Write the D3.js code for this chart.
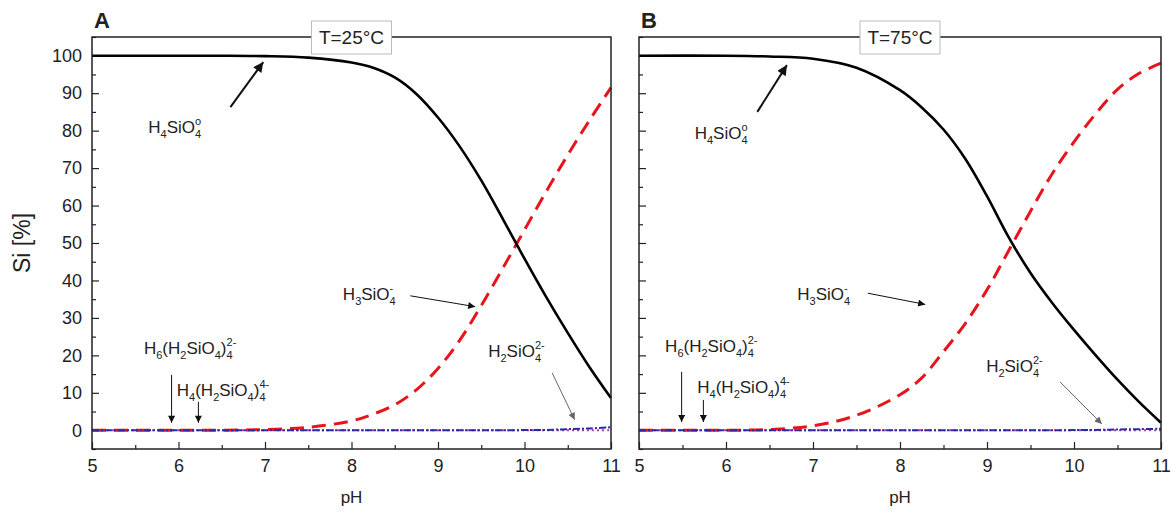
<!DOCTYPE html>
<html>
<head>
<meta charset="utf-8">
<script src="https://cdn.jsdelivr.net/npm/d3@7"></script>
<style>
  body { margin: 0; background: #fff; }
  svg text { font-family: "Liberation Sans", Arial, sans-serif; fill: #222; }
</style>
</head>
<body>
<div id="chart"></div>
<script>
// pH grid
var pH = [5, 6, 6.5, 7, 7.5, 8, 8.25, 8.5, 8.75, 9, 9.25, 9.5, 9.75, 10, 10.25, 10.5, 10.75, 11];

// T = 25 C
var h4sio4A  = [100, 100, 100, 99.9, 99.5, 98.2, 96.8, 94.2, 89.8, 83.5, 75.8, 66.7, 56.4, 45.8, 35.6, 26, 16.9, 8.6];
var h3sio4A  = [0, 0, 0, 0.2, 0.8, 2.5, 4.3, 6.8, 10.8, 16.5, 24, 33.3, 43.3, 53.5, 63.7, 73.5, 82.7, 91.5];
var h2sio4A  = [0, 0, 0, 0, 0, 0, 0, 0, 0, 0, 0, 0, 0, 0.05, 0.1, 0.3, 0.5, 0.8];
var polyA    = [0, 0, 0, 0, 0, 0, 0, 0, 0, 0, 0, 0, 0, 0, 0, 0, 0, 0];

// T = 75 C
var h4sio4B  = [100, 100, 99.8, 99.2, 96.8, 90.8, 86.2, 80.3, 72.5, 62.5, 51.5, 42, 34, 26.8, 20, 13.5, 7.5, 2];
var h3sio4B  = [0, 0, 0.2, 1.2, 4, 9.5, 14, 21, 28.5, 37.5, 48, 58.5, 68.5, 77, 84.5, 91, 95.3, 98];
var h2sio4B  = [0, 0, 0, 0, 0, 0, 0, 0, 0, 0, 0, 0, 0, 0.05, 0.1, 0.2, 0.3, 0.4];
var polyB    = [0, 0, 0, 0, 0, 0, 0, 0, 0, 0, 0, 0, 0, 0, 0, 0, 0, 0];

var xTicks = [5, 6, 7, 8, 9, 10, 11];
var yTicks = [0, 10, 20, 30, 40, 50, 60, 70, 80, 90, 100];

var width = 1173, height = 513;

var svg = d3.select("#chart")
  .append("svg")
    .attr("width", width)
    .attr("height", height);

var defs = svg.append("defs");
function arrowMarker(id, color, w, h) {
  defs.append("marker")
    .attr("id", id)
    .attr("viewBox", "0 0 10 10")
    .attr("refX", 10).attr("refY", 5)
    .attr("markerUnits", "userSpaceOnUse")
    .attr("markerWidth", w).attr("markerHeight", h)
    .attr("orient", "auto")
    .append("path")
      .attr("d", "M0,0 L10,5 L0,10 z")
      .attr("fill", color);
}
arrowMarker("arr-bold", "#111", 12, 10);
arrowMarker("arr-thin", "#111", 10, 7);
arrowMarker("arr-gray", "#666", 10, 7);

var y = d3.scaleLinear().domain([-5, 105]).range([449, 37]);

// chemical formula: strings are normal text, arrays are [subscript, superscript]
function formula(g, x0, y0, parts) {
  var cx = x0;
  parts.forEach(function(p) {
    if (typeof p == "string") {
      var t = g.append("text").attr("x", cx).attr("y", y0)
        .style("font-size", "17px").text(p);
      cx += t.node().getComputedTextLength();
    } else {
      var s = g.append("text").attr("x", cx).attr("y", y0 + 5)
        .style("font-size", "11px").text(p[0]);
      var w = s.node().getComputedTextLength();
      if (p[1]) {
        var u = g.append("text").attr("x", cx).attr("y", y0 - 8)
          .style("font-size", "11px").text(p[1]);
        w = Math.max(w, u.node().getComputedTextLength());
      }
      cx += w;
    }
  });
}

function panel(opt) {
  var x = d3.scaleLinear().domain([5, 11]).range(opt.range);
  var g = svg.append("g");

  // minor ticks
  g.append("g")
    .attr("transform", "translate(" + opt.range[0] + ",0)")
    .call(d3.axisLeft(y).tickValues(d3.range(-5, 106, 5).filter(d => d % 10 != 0)).tickSize(-4).tickFormat(""))
    .call(a => a.select(".domain").remove());
  g.append("g")
    .attr("transform", "translate(0,449)")
    .call(d3.axisBottom(x).tickValues(d3.range(5.5, 11, 1)).tickSize(-4).tickFormat(""))
    .call(a => a.select(".domain").remove());

  // major ticks
  var ya = g.append("g")
    .attr("transform", "translate(" + opt.range[0] + ",0)")
    .call(d3.axisLeft(y).tickValues(yTicks).tickSize(-7).tickPadding(10)
      .tickFormat(opt.yLabels ? d3.format("d") : ""));
  ya.select(".domain").remove();
  ya.selectAll("text").style("font-size", "18px").style("font-family", "Liberation Sans, Arial, sans-serif").attr("fill", "#222");

  var xa = g.append("g")
    .attr("transform", "translate(0,449)")
    .call(d3.axisBottom(x).tickValues(xTicks).tickSize(-7).tickPadding(10).tickFormat(d3.format("d")));
  xa.select(".domain").remove();
  xa.selectAll("text").style("font-size", "18px").style("font-family", "Liberation Sans, Arial, sans-serif").attr("fill", "#222");
  g.selectAll(".tick line").attr("stroke", "#222").attr("stroke-width", 1.2);

  var line = function(vals) {
    return d3.line()
      .x((d, i) => x(pH[i]))
      .y(d => y(d))
      .curve(d3.curveCatmullRom.alpha(0.5))(vals);
  };

  // near-zero species
  g.append("path").attr("d", line(opt.poly))
    .attr("fill", "none").attr("stroke", "#b03aa8").attr("stroke-width", 2)
    .attr("stroke-dasharray", "2,3");
  g.append("path").attr("d", line(opt.h3))
    .attr("fill", "none").attr("stroke", "#e8141c").attr("stroke-width", 3)
    .attr("stroke-dasharray", "14,8");
  g.append("path").attr("d", line(opt.h2))
    .attr("fill", "none").attr("stroke", "#2a2aa8").attr("stroke-width", 2)
    .attr("stroke-dasharray", "7,2,2,2");
  g.append("path").attr("d", line(opt.h4))
    .attr("fill", "none").attr("stroke", "#000").attr("stroke-width", 2.6);

  // frame
  g.append("rect")
    .attr("x", opt.range[0]).attr("y", 37)
    .attr("width", opt.range[1] - opt.range[0]).attr("height", 412)
    .attr("fill", "none").attr("stroke", "#222").attr("stroke-width", 1.5);

  var cx = (opt.range[0] + opt.range[1]) / 2;

  // temperature box
  g.append("rect")
    .attr("x", cx - 40).attr("y", 21).attr("width", 80).attr("height", 33)
    .attr("fill", "#fff").attr("stroke", "#bbb").attr("stroke-width", 1);
  g.append("text").attr("x", cx).attr("y", 44)
    .attr("text-anchor", "middle").style("font-size", "19px").text(opt.title);

  // panel letter
  g.append("text").attr("x", opt.range[0] + 2).attr("y", 28)
    .style("font-size", "22px").style("font-weight", "bold").attr("fill", "#111").text(opt.letter);

  // x title
  g.append("text").attr("x", cx).attr("y", 503)
    .attr("text-anchor", "middle").style("font-size", "17px").text("pH");

  // annotations
  opt.notes.forEach(function(n) {
    formula(g, x(n.at[0]), y(n.at[1]), n.parts);
    g.append("line")
      .attr("x1", x(n.from[0])).attr("y1", y(n.from[1]))
      .attr("x2", x(n.to[0])).attr("y2", y(n.to[1]))
      .attr("stroke", n.style == "gray" ? "#666" : "#111")
      .attr("stroke-width", n.style == "bold" ? 2 : 1)
      .attr("marker-end", "url(#arr-" + n.style + ")");
  });
}

var fH4 = ["H", ["4"], "SiO", ["4", "o"]];
var fH3 = ["H", ["3"], "SiO", ["4", "-"]];
var fH2 = ["H", ["2"], "SiO", ["4", "2-"]];
var fP6 = ["H", ["6"], "(H", ["2"], "SiO", ["4"], ")", ["4", "2-"]];
var fP4 = ["H", ["4"], "(H", ["2"], "SiO", ["4"], ")", ["4", "4-"]];

panel({
  range: [92, 611], yLabels: true, letter: "A", title: "T=25°C",
  h4: h4sio4A, h3: h3sio4A, h2: h2sio4A, poly: polyA,
  notes: [
    { parts: fH4, at: [5.65, 79.4], from: [6.60, 86.3], to: [6.98, 98.3], style: "bold" },
    { parts: fH3, at: [7.90, 34.8], from: [8.68, 35.9], to: [9.43, 33.0], style: "thin" },
    { parts: fH2, at: [9.58, 19.6], from: [10.32, 15.3], to: [10.58, 2.8], style: "gray" },
    { parts: fP6, at: [5.60, 20.4], from: [5.92, 14.8], to: [5.92, 2.0], style: "thin" },
    { parts: fP4, at: [5.98, 9.2], from: [6.23, 7.6], to: [6.23, 2.0], style: "thin" }
  ]
});

panel({
  range: [639, 1161], yLabels: false, letter: "B", title: "T=75°C",
  h4: h4sio4B, h3: h3sio4B, h2: h2sio4B, poly: polyB,
  notes: [
    { parts: fH4, at: [5.64, 77.8], from: [6.36, 85.0], to: [6.70, 97.5], style: "bold" },
    { parts: fH3, at: [6.82, 34.8], from: [7.63, 36.6], to: [8.29, 33.6], style: "thin" },
    { parts: fH2, at: [8.99, 15.6], from: [9.84, 12.9], to: [10.32, 1.7], style: "gray" },
    { parts: fP6, at: [5.30, 20.9], from: [5.49, 15.6], to: [5.49, 2.2], style: "thin" },
    { parts: fP4, at: [5.67, 10.0], from: [5.74, 8.1], to: [5.74, 2.2], style: "thin" }
  ]
});

// shared y title
svg.append("text")
  .attr("transform", "translate(30,243) rotate(-90)")
  .attr("text-anchor", "middle")
  .style("font-size", "23px")
  .text("Si [%]");
</script>
</body>
</html>
